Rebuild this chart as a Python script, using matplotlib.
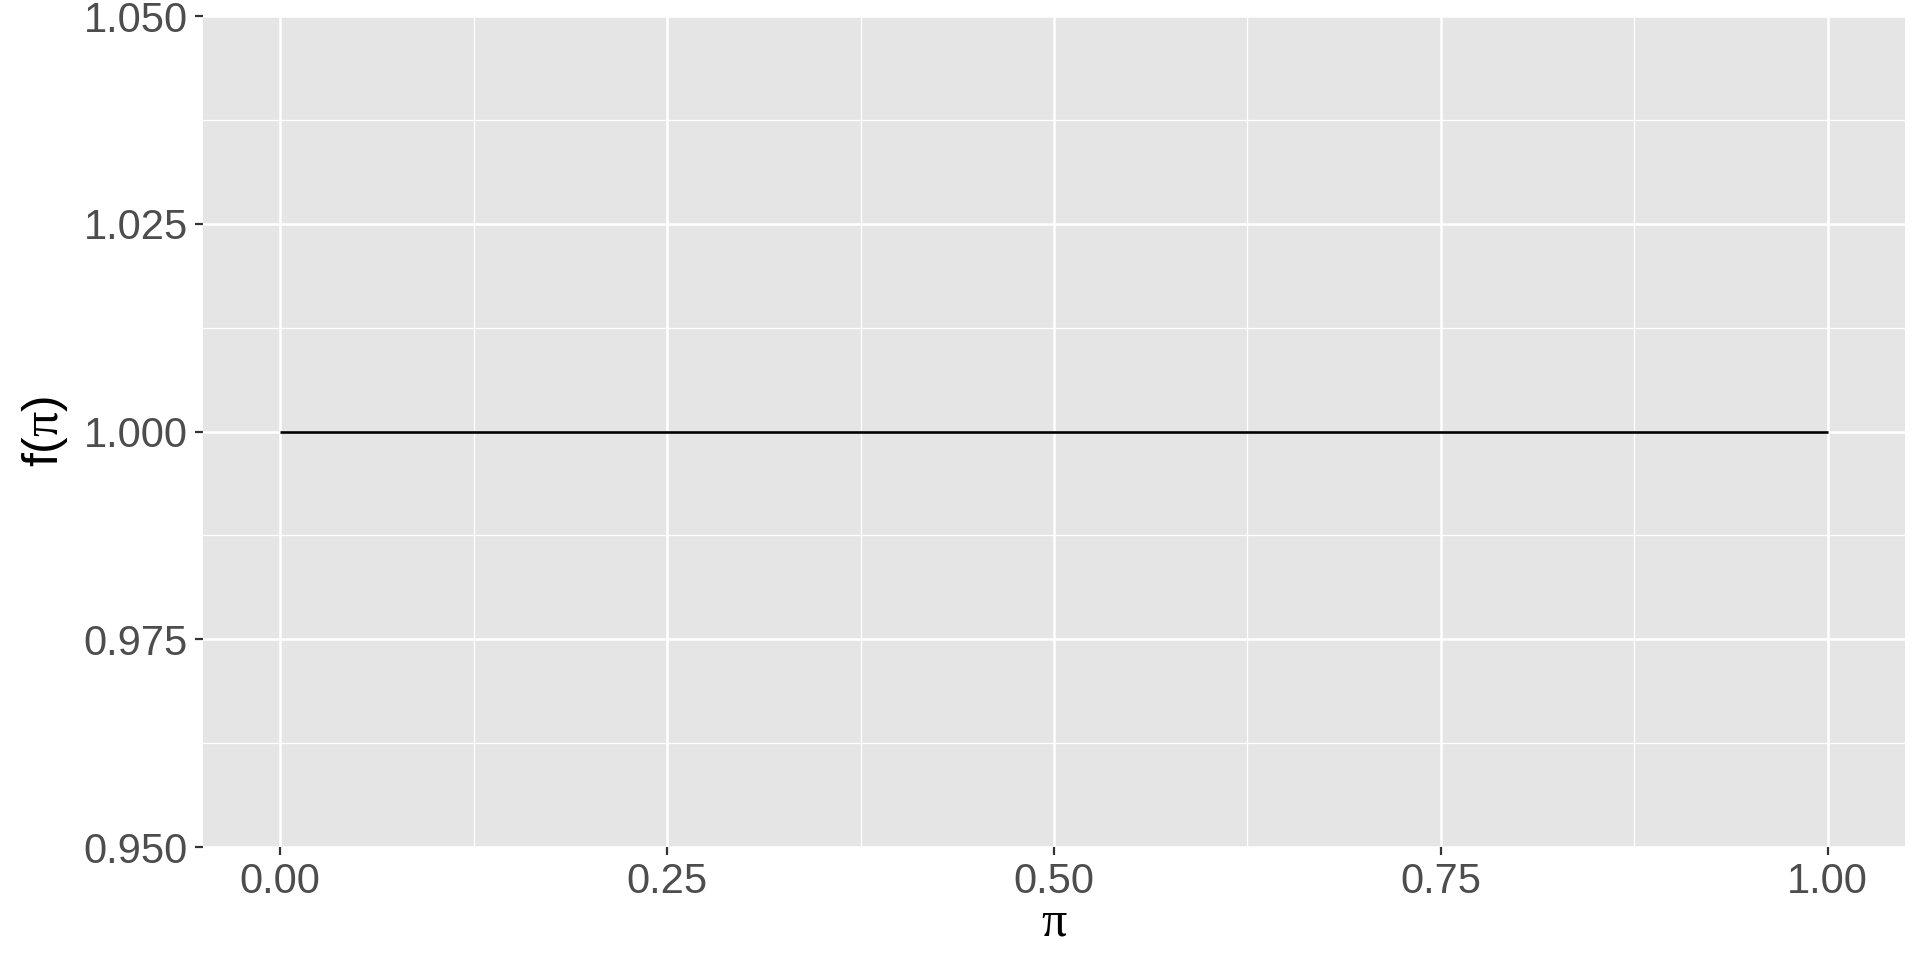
import numpy as np
import matplotlib
matplotlib.use("Agg")
import matplotlib.pyplot as plt
from matplotlib.ticker import MultipleLocator

plt.rcParams['font.family'] = ['Liberation Sans', 'DejaVu Sans']
# upright serif pi, like the Symbol font in the original
plt.rcParams['mathtext.fontset'] = 'custom'
plt.rcParams['mathtext.rm'] = 'Liberation Serif'
plt.rcParams['mathtext.it'] = 'Liberation Serif'
plt.rcParams['mathtext.bf'] = 'Liberation Serif:bold'

# data: constant density f(pi) = 1 on [0, 1]
pi_vals = [0.0, 1.0]
f_vals = [1.0, 1.0]

x_ticks = [0.00, 0.25, 0.50, 0.75, 1.00]
y_ticks = [0.950, 0.975, 1.000, 1.025, 1.050]

fig = plt.figure(figsize=(19.2, 9.6), dpi=100)
ax = fig.add_axes([0.1057, 0.1177, 0.9922 - 0.1057, 0.9833 - 0.1177])

ax.set_facecolor('#E5E5E5')
for s in ax.spines.values():
    s.set_visible(False)

ax.plot(pi_vals, f_vals, color='black', lw=1.9, solid_capstyle='butt', zorder=3)

ax.set_xlim(-0.05, 1.05)
ax.set_ylim(0.95, 1.05)
ax.set_xticks(x_ticks)
ax.set_xticklabels([f"{v:.2f}" for v in x_ticks])
ax.set_yticks(y_ticks)
ax.set_yticklabels([f"{v:.3f}" for v in y_ticks])
ax.xaxis.set_minor_locator(MultipleLocator(0.125))
ax.yaxis.set_minor_locator(MultipleLocator(0.0125))

ax.grid(which='major', color='white', lw=1.8, zorder=1)
ax.grid(which='minor', color='white', lw=0.9, zorder=1)
ax.set_axisbelow(True)

ax.tick_params(which='major', length=5.8, width=1.6, color='#333333',
               labelsize=30, labelcolor='#4D4D4D', pad=5)
ax.tick_params(which='minor', length=0)

ax.set_xlabel(r'$\pi$', fontsize=36, color='black', labelpad=-2)
ax.set_ylabel(r'f($\pi$)', fontsize=36, color='black', labelpad=10)

fig.savefig('out.png', dpi=100, facecolor='white')
